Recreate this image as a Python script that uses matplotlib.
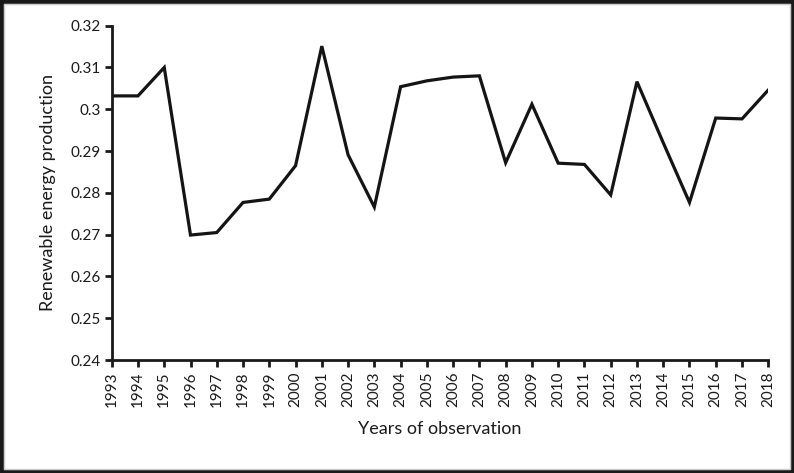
import matplotlib.pyplot as plt
from matplotlib.patches import Rectangle

# Datos
years = list(range(1993, 2019))
production = [0.3032, 0.3032, 0.3100, 0.2699, 0.2705, 0.2777, 0.2785, 0.2865,
              0.3151, 0.2891, 0.2766, 0.3054, 0.3068, 0.3077, 0.3080, 0.2872,
              0.3012, 0.2871, 0.2868, 0.2795, 0.3066, 0.2920, 0.2777, 0.2979,
              0.2977, 0.3046]
y_ticks = [0.24, 0.25, 0.26, 0.27, 0.28, 0.29, 0.30, 0.31, 0.32]
y_tick_labels = ['0.24', '0.25', '0.26', '0.27', '0.28', '0.29', '0.3', '0.31', '0.32']

plt.rcParams['font.family'] = ['Lato', 'DejaVu Sans']

fig = plt.figure(figsize=(7.94, 4.73), dpi=100)
ax = fig.add_axes([0.1407, 0.2389, 0.8269, 0.7068])

ax.plot(years, production, color='#141414', linewidth=2.3, solid_joinstyle='miter')

ax.set_xlim(years[0], years[-1])
ax.set_ylim(0.24, 0.32)
ax.set_xticks(years)
ax.set_xticklabels([str(y) for y in years], rotation=90)
ax.set_yticks(y_ticks)
ax.set_yticklabels(y_tick_labels)
ax.tick_params(axis='both', direction='out', length=5, width=2, colors='#1a1a1a',
               labelsize=11, labelcolor='#1a1a1a', pad=3)

for s in ['top', 'right']:
    ax.spines[s].set_visible(False)
for s in ['left', 'bottom']:
    ax.spines[s].set_linewidth(2)
    ax.spines[s].set_color('#1a1a1a')

ax.set_xlabel('Years of observation', fontsize=13, color='#1a1a1a', labelpad=10)
ax.set_ylabel('Renewable energy production', fontsize=13, color='#1a1a1a', labelpad=10)

# Marco exterior de la figura
fig.patches.append(Rectangle((0.0015, 0.0025), 0.997, 0.995, transform=fig.transFigure,
                             fill=False, edgecolor='#1a1a1a', linewidth=3.5))
fig.patches.append(Rectangle((0.0055, 0.0095), 0.990, 0.983, transform=fig.transFigure,
                             fill=False, edgecolor='#cccccc', linewidth=1))

fig.savefig('out.png', dpi=100)
